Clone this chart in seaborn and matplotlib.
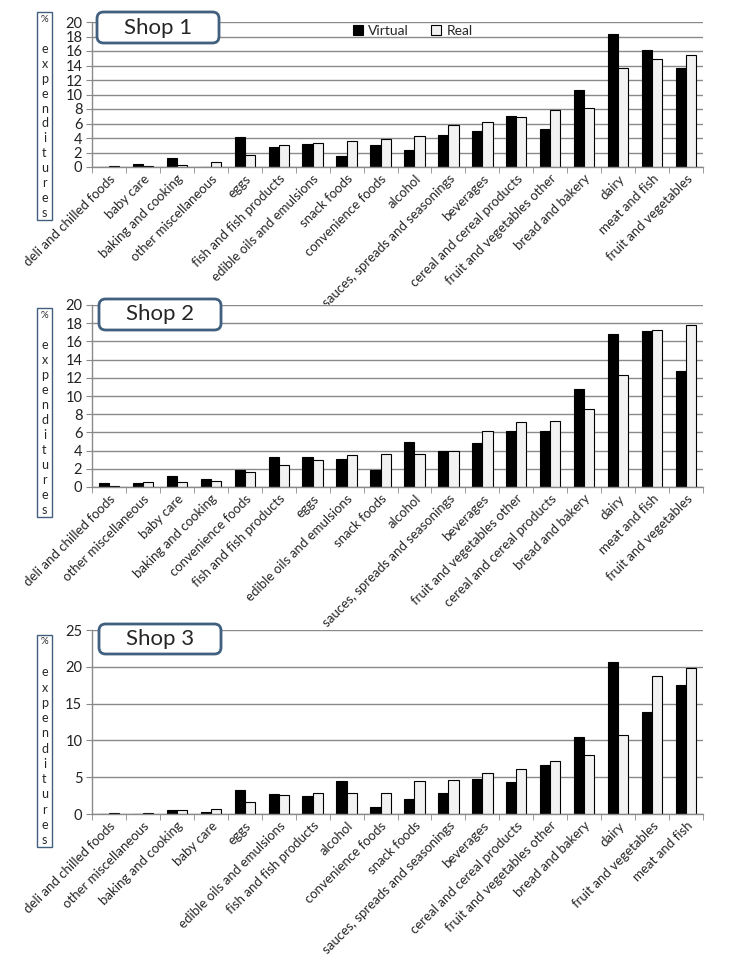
import pandas as pd
import numpy as np
import matplotlib
matplotlib.use("Agg")
import matplotlib.pyplot as plt
from matplotlib.patches import FancyBboxPatch, Rectangle
import seaborn as sns

# categories per shop, in plotted order
shop1_cats = ["deli and chilled foods", "baby care", "baking and cooking", "other miscellaneous",
              "eggs", "fish and fish products", "edible oils and emulsions", "snack foods",
              "convenience foods", "alcohol", "sauces, spreads and seasonings", "beverages",
              "cereal and cereal products", "fruit and vegetables other", "bread and bakery",
              "dairy", "meat and fish", "fruit and vegetables"]
shop1_virtual = [0.05, 0.45, 1.3, 0.05, 4.1, 2.8, 3.2, 1.5, 3.0, 2.4, 4.4, 5.0, 7.0, 5.2, 10.6, 18.4, 16.1, 13.6]
shop1_real = [0.1, 0.18, 0.28, 0.65, 1.6, 3.1, 3.3, 3.55, 3.9, 4.3, 5.8, 6.2, 6.9, 7.9, 8.1, 13.6, 14.9, 15.5]

shop2_cats = ["deli and chilled foods", "other miscellaneous", "baby care", "baking and cooking",
              "convenience foods", "fish and fish products", "eggs", "edible oils and emulsions",
              "snack foods", "alcohol", "sauces, spreads and seasonings", "beverages",
              "fruit and vegetables other", "cereal and cereal products", "bread and bakery",
              "dairy", "meat and fish", "fruit and vegetables"]
shop2_virtual = [0.4, 0.4, 1.17, 0.84, 1.83, 3.26, 3.26, 3.04, 1.83, 5.0, 4.0, 4.8, 6.1, 6.1, 10.8, 16.8, 17.1, 12.8]
shop2_real = [0.1, 0.55, 0.55, 0.66, 1.65, 2.42, 3.0, 3.5, 3.6, 3.6, 4.0, 6.15, 7.15, 7.25, 8.57, 12.3, 17.25, 17.8]

shop3_cats = ["deli and chilled foods", "other miscellaneous", "baking and cooking", "baby care",
              "eggs", "edible oils and emulsions", "fish and fish products", "alcohol",
              "convenience foods", "snack foods", "sauces, spreads and seasonings", "beverages",
              "cereal and cereal products", "fruit and vegetables other", "bread and bakery",
              "dairy", "fruit and vegetables", "meat and fish"]
shop3_virtual = [0.05, 0.05, 0.6, 0.23, 3.3, 2.68, 2.5, 4.54, 1.0, 2.1, 2.8, 4.8, 4.4, 6.7, 10.5, 20.6, 13.9, 17.5]
shop3_real = [0.13, 0.13, 0.5, 0.64, 1.63, 2.54, 2.86, 2.86, 2.8, 4.45, 4.6, 5.55, 6.1, 7.2, 8.0, 10.7, 18.7, 19.8]

shop_names = ["Shop 1", "Shop 2", "Shop 3"]
series = ["Virtual", "Real"]
y_max = [20, 20, 25]
y_step = [2, 2, 5]

sns.set_style("white")
plt.rcParams["font.family"] = ["Lato", "DejaVu Sans"]

W, H = 738, 960
fig = plt.figure(figsize=(W / 100, H / 100), dpi=100)

# axes boxes in pixels: left, top, right, bottom
ax_px = [(92, 22, 703, 167), (92, 305, 703, 487), (92, 630, 703, 814)]
title_px = [(97, 12, 219, 43), (99, 299, 221, 330), (99, 624, 221, 654)]
ylab_px = [(37, 12, 52, 220), (37, 308, 52, 517), (37, 635, 52, 847)]

grid_col = "#8a8a8a"
shops = [(shop1_cats, shop1_virtual, shop1_real),
         (shop2_cats, shop2_virtual, shop2_real),
         (shop3_cats, shop3_virtual, shop3_real)]

for i, (cats, virt, real) in enumerate(shops):
    l, t, r, b = ax_px[i]
    ax = fig.add_axes([l / W, 1 - b / H, (r - l) / W, (b - t) / H])
    df = pd.DataFrame({
        "category": cats * 2,
        "value": virt + real,
        "series": ["Virtual"] * len(cats) + ["Real"] * len(cats),
    })
    sns.barplot(data=df, x="category", y="value", hue="series", order=cats,
                hue_order=series, palette=["black", "#f2f2f2"], width=0.6,
                edgecolor="black", linewidth=0.8, ax=ax, legend=(i == 0))
    ax.set_ylim(0, y_max[i])
    ax.set_xlim(-0.5, len(cats) - 0.5)
    ax.set_yticks(np.arange(0, y_max[i] + 0.1, y_step[i]))
    ax.yaxis.grid(True, color=grid_col, linewidth=1)
    ax.set_axisbelow(True)
    ax.set_xlabel("")
    ax.set_ylabel("")
    for s in ["top", "right"]:
        ax.spines[s].set_visible(False)
    for s in ["left", "bottom"]:
        ax.spines[s].set_color(grid_col)
        ax.spines[s].set_linewidth(1)
    ax.tick_params(axis="y", length=4, color=grid_col, labelsize=10.5, pad=3, left=True,
                   labelcolor="#222222")
    ax.tick_params(axis="x", which="major", length=0, pad=4)
    ax.set_xticks(np.arange(-0.5, len(cats), 1), minor=True)
    ax.tick_params(axis="x", which="minor", length=4, color=grid_col, bottom=True)
    ax.set_xticklabels(cats, rotation=45, ha="right", rotation_mode="anchor", fontsize=9.5)

    if i == 0:
        ax.legend(loc="center", bbox_to_anchor=(0.525, 0.94), ncol=2, frameon=False,
                  fontsize=10, handlelength=0.7, handleheight=0.7, handletextpad=0.4,
                  columnspacing=1.6)

    # shop title box
    tl, tt, tr, tb = title_px[i]
    box = FancyBboxPatch((tl / W, 1 - tb / H), (tr - tl) / W, (tb - tt) / H,
                         boxstyle="round,pad=0,rounding_size=0.009",
                         mutation_aspect=W / H, transform=fig.transFigure,
                         facecolor="white", edgecolor="#41607f", linewidth=2)
    fig.patches.append(box)
    fig.text((tl + tr) / 2 / W, 1 - (tt + tb) / 2 / H, shop_names[i], ha="center",
             va="center", fontsize=16)

    # boxed vertical y label
    yl, yt, yr, yb = ylab_px[i]
    fig.patches.append(Rectangle((yl / W, 1 - yb / H), (yr - yl) / W, (yb - yt) / H,
                                 transform=fig.transFigure, facecolor="white",
                                 edgecolor="#41607f", linewidth=1))
    letters = ["%", ""] + list("expenditures")
    step = (yb - yt - 14) / (len(letters) - 1)
    for k, ch in enumerate(letters):
        fig.text((yl + yr) / 2 / W, 1 - (yt + 7 + k * step) / H, ch, ha="center",
                 va="center", fontsize=9 if ch != "%" else 7)

fig.savefig("out.png", dpi=100)
